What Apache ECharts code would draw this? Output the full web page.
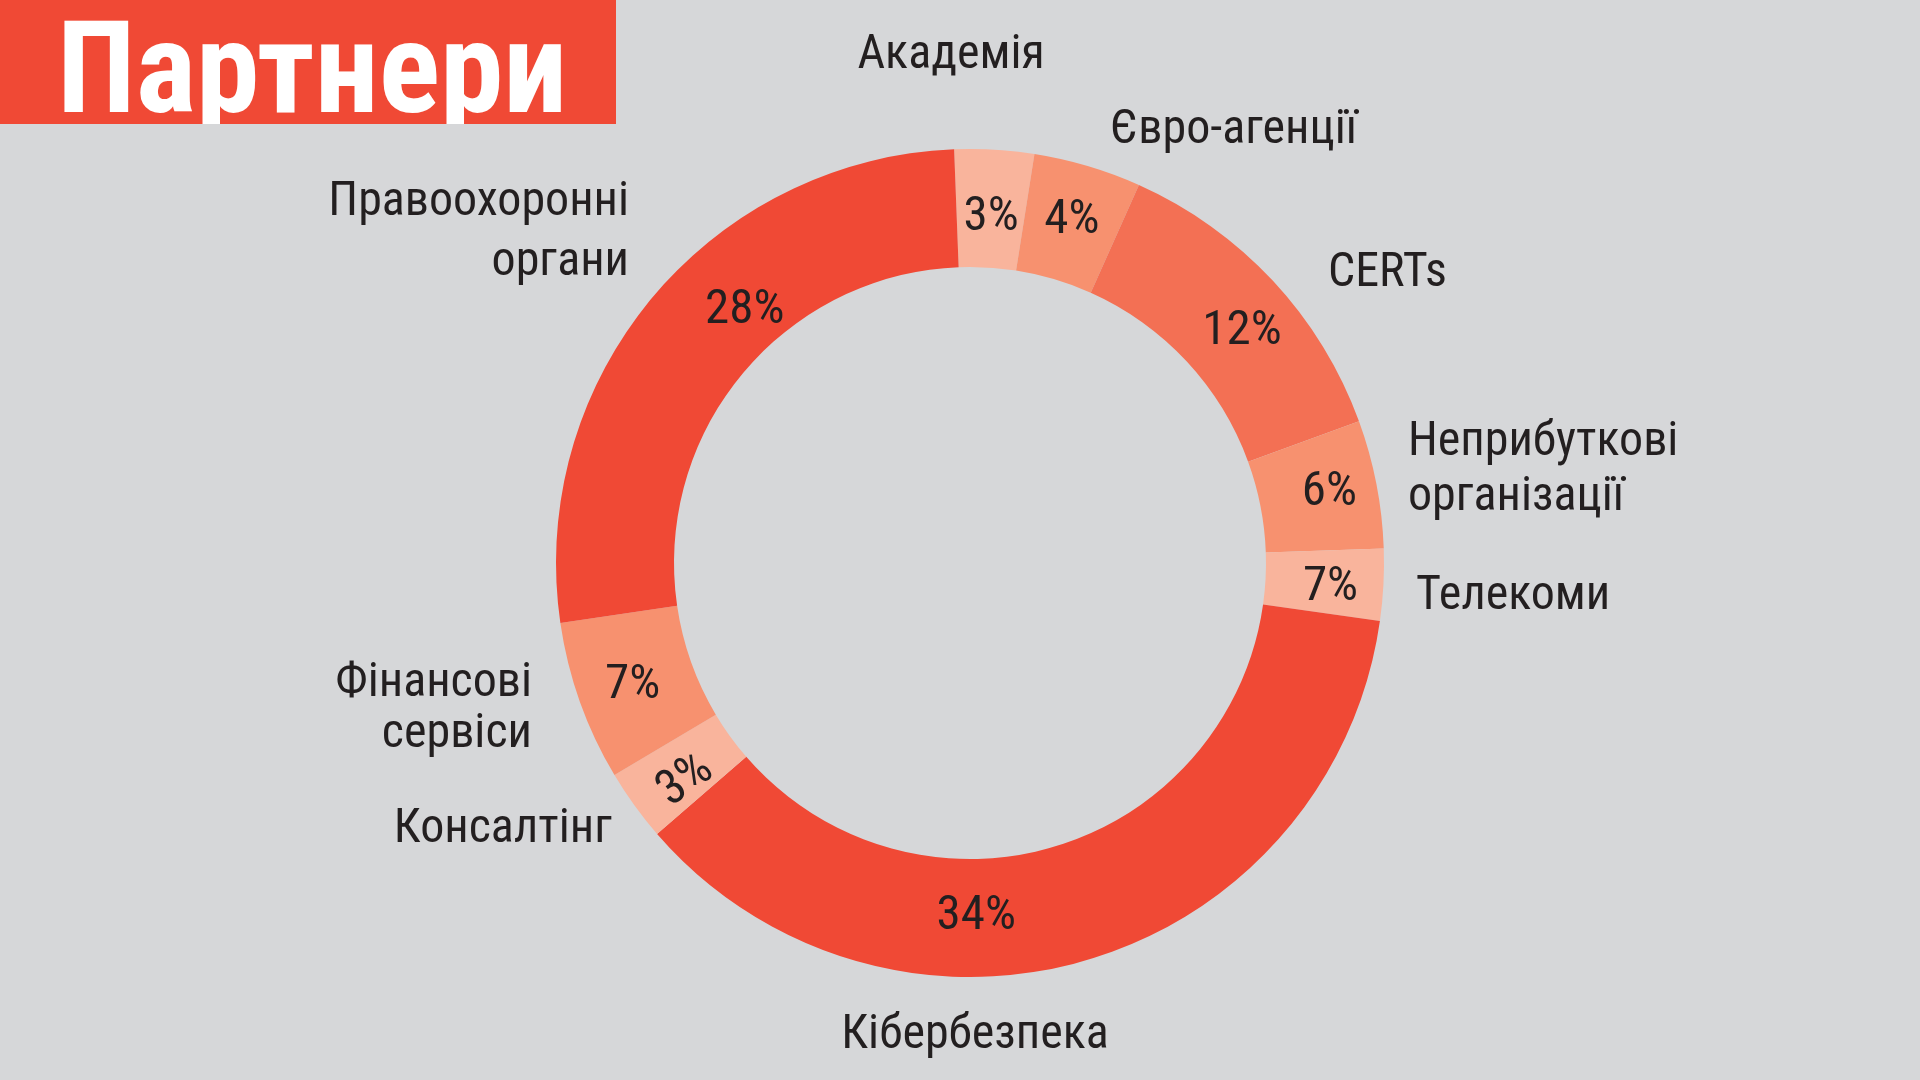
<!DOCTYPE html>
<html>
<head>
<meta charset="utf-8">
<script src="https://cdn.jsdelivr.net/npm/echarts@6/dist/echarts.min.js"></script>
<style>
html,body{margin:0;padding:0;background:#D6D7D9;}
#chart{width:1920px;height:1080px;}
</style>
</head>
<body>
<div id="chart"></div>
<script>
// ---- data ----
const categories = ['Академія','Євро-агенції','CERTs','Неприбуткові\nорганізації','Телекоми','Кібербезпека','Консалтінг','Фінансові\nсервіси','Правоохоронні\nоргани'];
const shares = [3.1, 4.2, 12.75, 5.0, 2.8, 36.4, 2.8, 6.25, 26.7];
const percentLabels = ['3%','4%','12%','6%','7%','34%','3%','7%','28%'];
const titleText = 'Партнери';

// ---- styling / layout ----
const colors = ['#F9B49C','#F7916F','#F37054','#F7916F','#F9B49C','#F04935','#F9B49C','#F7916F','#F04935'];
const pctOffset = [[0,12],[0,1],[10,13],[8,-2],[3,6],[-95,10],[0,10],[0,3],[50,-23]];
const pctRotate = [0,0,0,0,0,0,36,0,0];
const namePos = [[951,56,'center'],[1110,131,'left'],[1328,274,'left'],[1408,470,'left'],[1416,597,'left'],[975,1036,'center'],[612,830,'right'],[532,709,'right'],[629,233,'right']];
const nameLineHeight = [54,54,54,55,54,54,54,51,60];
const FONT = "'Roboto Condensed','Liberation Sans Narrow','DejaVu Sans Condensed',Roboto,sans-serif";

const chart = echarts.init(document.getElementById('chart'));
const center = [970, 563];
const radius = [296, 414];

const pctData = categories.map((c, i) => ({
  name: c,
  value: shares[i],
  itemStyle: { color: colors[i] },
  label: { formatter: percentLabels[i], offset: pctOffset[i], rotate: pctRotate[i] }
}));
const nameData = categories.map((c, i) => ({ name: c, value: shares[i], label: { lineHeight: nameLineHeight[i] } }));

chart.setOption({
  backgroundColor: '#D6D7D9',
  animation: false,
  graphic: [
    { type: 'rect', shape: { x: 0, y: 0, width: 616, height: 124 }, style: { fill: '#F04935' }, z: 0 },
    { type: 'rect', shape: { x: 0, y: 124, width: 616, height: 24 }, style: { fill: '#D6D7D9' }, z: 100 }
  ],
  title: {
    text: titleText, left: 57, top: 16, padding: 0,
    textStyle: { color: '#FFFFFF', fontSize: 128, fontWeight: 'bold', fontFamily: FONT, lineHeight: 128 }
  },
  series: [
    {
      type: 'pie', center: center, radius: radius, startAngle: 92.2, clockwise: true,
      avoidLabelOverlap: false, silent: true,
      itemStyle: { borderWidth: 0 },
      label: { show: true, position: 'inside', color: '#231F20', fontSize: 49, fontFamily: FONT },
      labelLine: { show: false },
      emphasis: { disabled: true },
      data: pctData
    },
    {
      type: 'pie', center: center, radius: radius, startAngle: 92.2, clockwise: true,
      avoidLabelOverlap: false, silent: true,
      itemStyle: { color: 'rgba(0,0,0,0)', borderWidth: 0 },
      label: { show: true, position: 'outside', formatter: '{b}', color: '#231F20', fontSize: 48, lineHeight: 54, fontFamily: FONT },
      labelLine: { show: false },
      labelLayout: function (p) {
        const q = namePos[p.dataIndex];
        return { x: q[0], y: q[1], align: q[2], verticalAlign: 'middle' };
      },
      emphasis: { disabled: true },
      data: nameData
    }
  ]
});
</script>
</body>
</html>
